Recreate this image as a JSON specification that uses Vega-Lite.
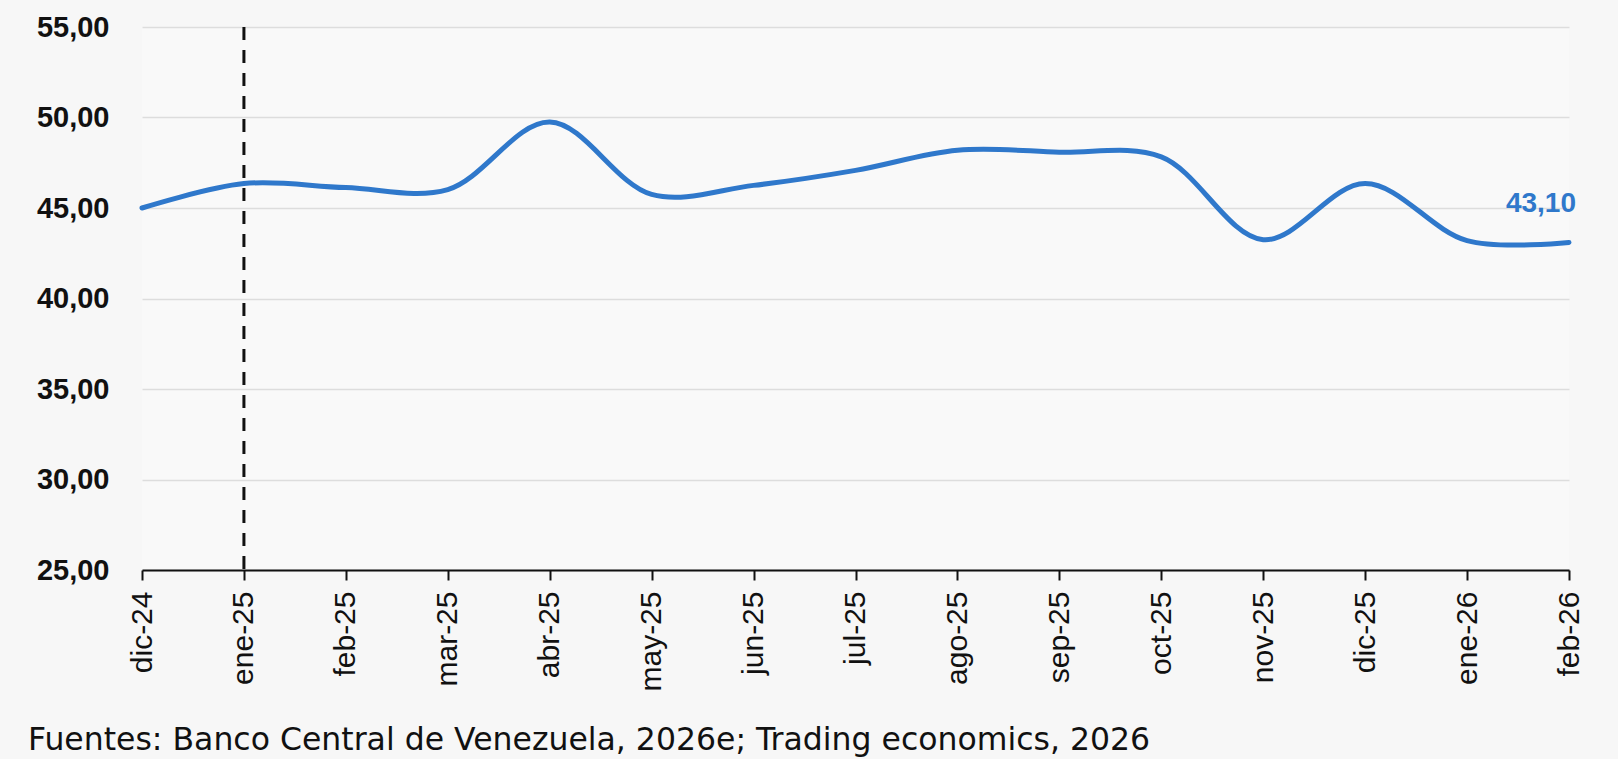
{
  "$schema": "https://vega.github.io/schema/vega-lite/v6.json",
  "width": 1427,
  "height": 543,
  "autosize": {"type": "none"},
  "padding": {"left": 142, "top": 27, "right": 49, "bottom": 189},
  "background": "#f7f7f7",
  "config": {
    "locale": {"number": {"decimal": ",", "thousands": ".", "grouping": [3], "currency": ["", ""]}},
    "view": {"stroke": null, "fill": "#f9f9f9"},
    "font": "Liberation Sans"
  },
  "title": {
    "text": "Fuentes: Banco Central de Venezuela, 2026e; Trading economics, 2026",
    "orient": "bottom",
    "anchor": "start",
    "frame": "group",
    "dx": -114,
    "offset": 34,
    "font": "DejaVu Sans",
    "fontSize": 31.5,
    "fontWeight": "normal",
    "color": "#111111"
  },
  "data": {
    "values": [
      {"mes": "dic-24", "valor": 45.0},
      {"mes": "ene-25", "valor": 46.35},
      {"mes": "feb-25", "valor": 46.13},
      {"mes": "mar-25", "valor": 46.02},
      {"mes": "abr-25", "valor": 49.75},
      {"mes": "may-25", "valor": 45.75},
      {"mes": "jun-25", "valor": 46.25},
      {"mes": "jul-25", "valor": 47.08},
      {"mes": "ago-25", "valor": 48.19},
      {"mes": "sep-25", "valor": 48.08},
      {"mes": "oct-25", "valor": 47.82},
      {"mes": "nov-25", "valor": 43.25},
      {"mes": "dic-25", "valor": 46.35},
      {"mes": "ene-26", "valor": 43.2},
      {"mes": "feb-26", "valor": 43.1}
    ]
  },
  "encoding": {
    "x": {
      "field": "mes",
      "type": "ordinal",
      "sort": null,
      "scale": {
        "type": "point",
        "padding": 0,
        "domain": ["dic-24", "ene-25", "feb-25", "mar-25", "abr-25", "may-25", "jun-25", "jul-25", "ago-25", "sep-25", "oct-25", "nov-25", "dic-25", "ene-26", "feb-26"]
      },
      "axis": {
        "title": null,
        "labelAngle": 270,
        "labelAlign": "right",
        "labelBaseline": "middle",
        "labelFontSize": 30,
        "labelColor": "#111111",
        "labelPadding": 11,
        "tickSize": 10,
        "tickColor": "#111111",
        "tickWidth": 2,
        "domainColor": "#111111",
        "domainWidth": 2,
        "grid": false
      }
    },
    "y": {
      "field": "valor",
      "type": "quantitative",
      "scale": {"domain": [25, 55], "nice": false, "zero": false},
      "axis": {
        "title": null,
        "values": [25, 30, 35, 40, 45, 50, 55],
        "format": ".2f",
        "labelFontSize": 29,
        "labelFontWeight": "bold",
        "labelColor": "#111111",
        "labelPadding": 33,
        "ticks": false,
        "domain": false,
        "grid": true,
        "gridColor": "#dddddd",
        "gridWidth": 1.5
      }
    }
  },
  "layer": [
    {
      "mark": {"type": "rule", "color": "#111111", "strokeWidth": 3, "strokeDash": [13, 10]},
      "transform": [{"filter": "datum.mes == 'ene-25'"}],
      "encoding": {"y": null}
    },
    {
      "mark": {"type": "line", "interpolate": "catmull-rom", "color": "#2f78cb", "strokeWidth": 5, "strokeCap": "round"}
    },
    {
      "transform": [{"filter": "datum.mes == 'feb-26'"}],
      "mark": {"type": "text", "align": "right", "baseline": "middle", "dx": 7, "dy": -38, "fontSize": 28, "fontWeight": "bold", "color": "#2f78cb"},
      "encoding": {"text": {"field": "valor", "type": "quantitative", "format": ".2f"}}
    }
  ]
}
